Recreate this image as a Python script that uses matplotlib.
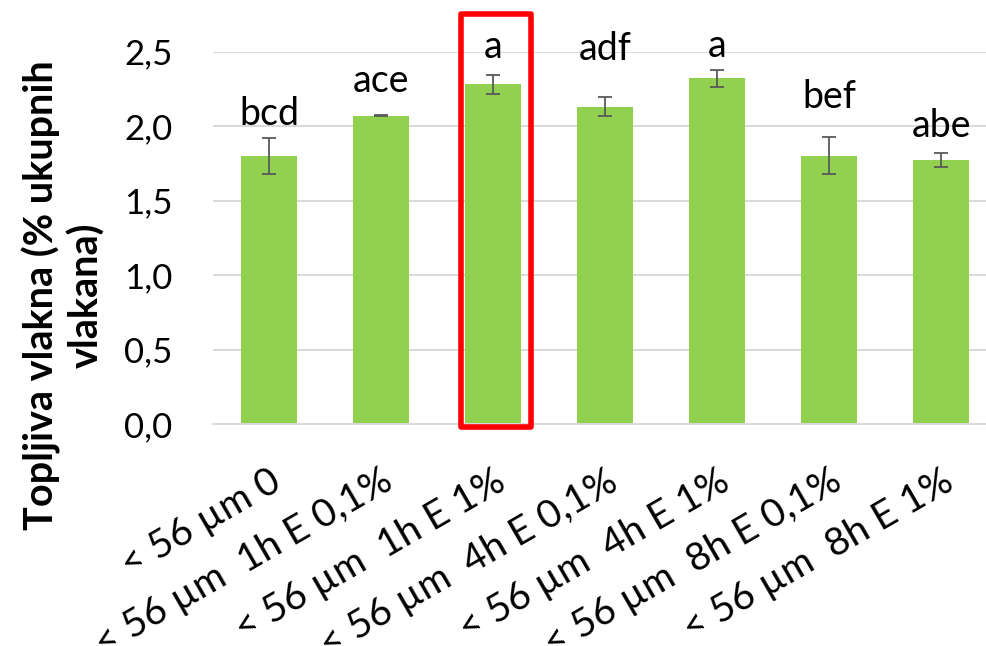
import matplotlib
matplotlib.use('Agg')
import matplotlib.pyplot as plt
from matplotlib.patches import Rectangle

plt.rcParams['font.family'] = ['Lato', 'DejaVu Sans']

# Soluble fibre share per treatment
categories = ['< 56 µm 0', '< 56 µm  1h E 0,1%', '< 56 µm  1h E 1%', '< 56 µm  4h E 0,1%',
              '< 56 µm  4h E 1%', '< 56 µm  8h E 0,1%', '< 56 µm  8h E 1%']
means = [1.80, 2.07, 2.28, 2.13, 2.32, 1.80, 1.77]
errors = [0.12, 0.005, 0.063, 0.066, 0.055, 0.123, 0.048]
letters = ['bcd', 'ace', 'a', 'adf', 'a', 'bef', 'abe']
yticks = [0.0, 0.5, 1.0, 1.5, 2.0, 2.5]

# where each significance label sits (baseline, axis units)
letter_y = [2.007, 2.23, 2.455, 2.443, 2.461, 2.121, 1.928]
highlight = 2

fig = plt.figure(figsize=(9.87, 6.46), dpi=100)
ax = fig.add_axes([213 / 987, 222 / 646, 784.5 / 987, 372.5 / 646])

x = list(range(len(categories)))
ax.bar(x, means, width=0.5, color='#92D050', zorder=2)
ax.errorbar(x, means, yerr=errors, fmt='none', ecolor='#595959', elinewidth=1.3,
            capsize=5, capthick=1.3, zorder=3)

for xi, lab, ly in zip(x, letters, letter_y):
    ax.text(xi, ly, lab, ha='center', va='baseline', fontsize=27, color='black')

ax.set_xlim(-0.5, len(categories) - 0.5)
ax.set_ylim(0, 2.5)
ax.set_yticks(yticks)
ax.set_yticklabels([f'{v:.1f}'.replace('.', ',') for v in yticks], fontsize=25)
ax.set_xticks(x)
ax.set_xticklabels(categories, fontsize=28, rotation=30, ha='right', va='top',
                   rotation_mode='anchor')
ax.tick_params(axis='y', length=0, pad=29)
ax.tick_params(axis='x', length=0, pad=28)

ax.grid(axis='y', color='#D9D9D9', linewidth=1.4, zorder=0)
ax.set_axisbelow(True)
for side in ['top', 'right', 'left']:
    ax.spines[side].set_visible(False)
ax.spines['bottom'].set_color('#D9D9D9')
ax.spines['bottom'].set_linewidth(1.4)

# red frame around the 1h E 1% bar
frame = Rectangle((highlight - 0.29, -0.02), 0.625, 2.774, fill=False,
                  edgecolor='#FF0000', linewidth=4, joinstyle='round',
                  clip_on=False, zorder=4)
ax.add_patch(frame)

fig.text(64 / 987, 1 - 295 / 646, 'Topljiva vlakna (% ukupnih\nvlakana)',
         rotation=90, ha='center', va='center', multialignment='center',
         fontsize=28.5, fontweight='bold', linespacing=1.2)

fig.savefig('out.png', dpi=100)
